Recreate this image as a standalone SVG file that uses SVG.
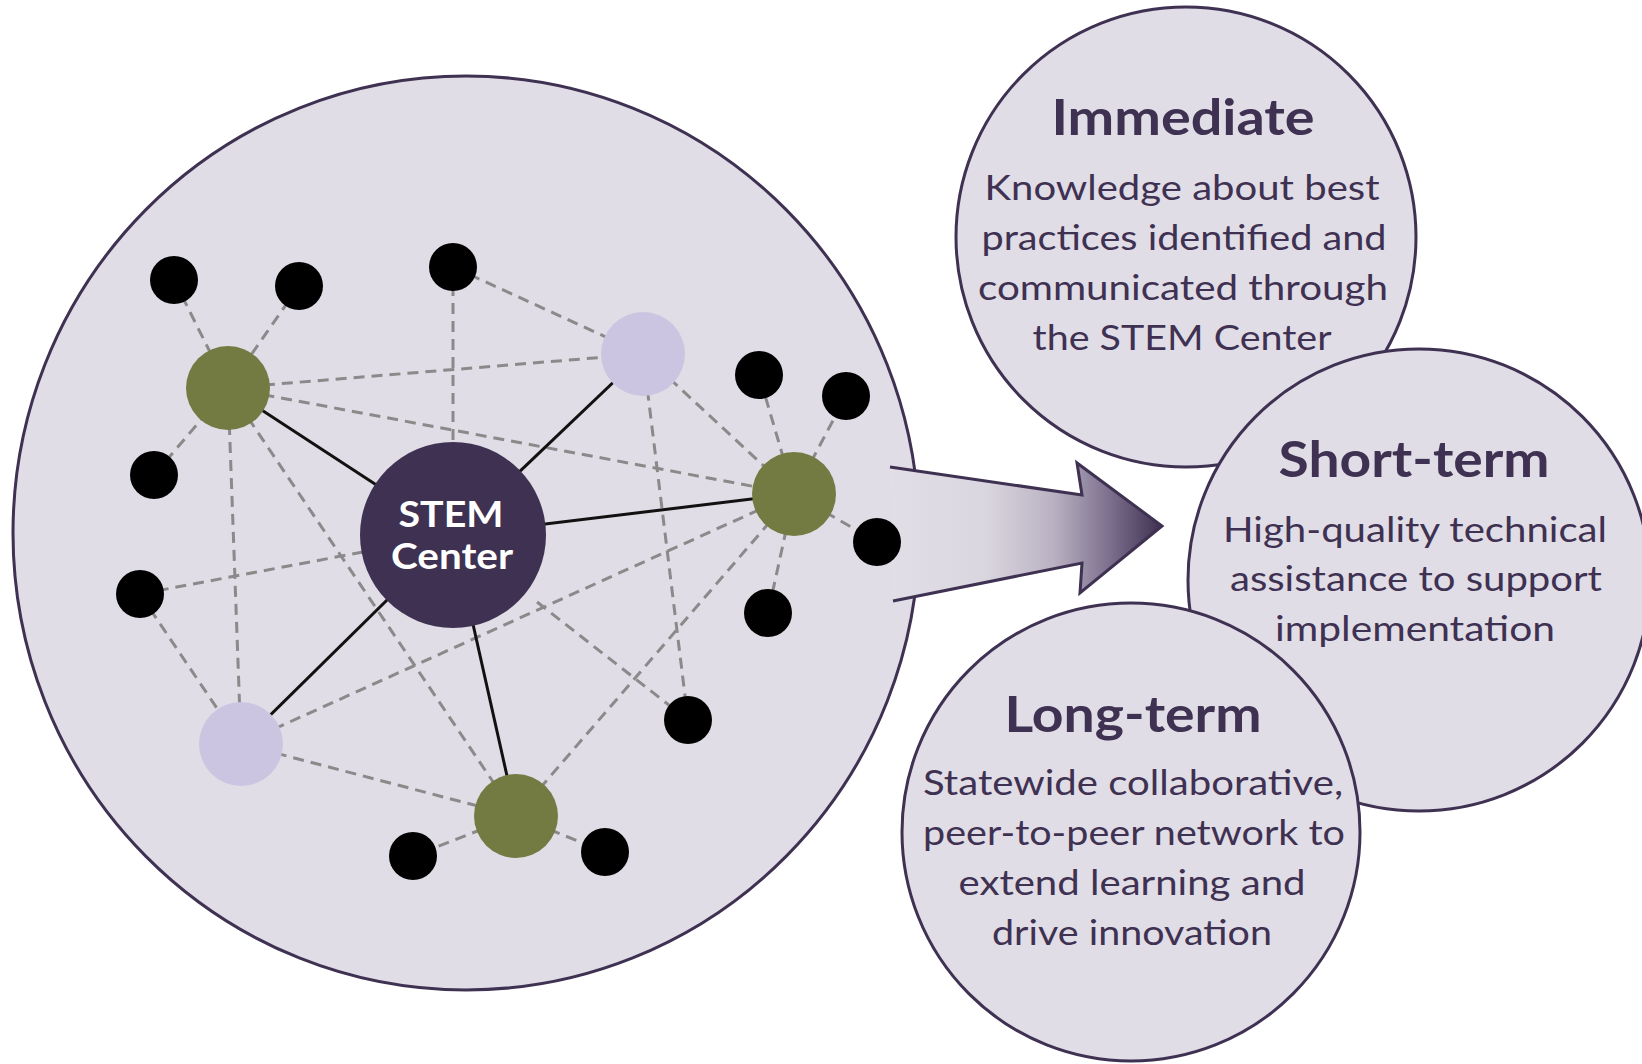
<svg xmlns="http://www.w3.org/2000/svg" width="1642" height="1064" viewBox="0 0 1642 1064">
<defs>
<linearGradient id="arrowGrad" gradientUnits="userSpaceOnUse" x1="890" y1="0" x2="1162" y2="0">
<stop offset="0" stop-color="#e1dee6"/>
<stop offset="0.35" stop-color="#dad6df"/>
<stop offset="0.6" stop-color="#bab2c3"/>
<stop offset="0.8" stop-color="#7e7290"/>
<stop offset="1" stop-color="#3f3050"/>
</linearGradient>
<style>
.bubble{fill:#e0dde6;stroke:#3f3152;stroke-width:3}
.dash{stroke:#8a8a8a;stroke-width:3;stroke-dasharray:11 7;fill:none}
.solid{stroke:#111;stroke-width:3;fill:none}
.green{fill:#737b42}
.lav{fill:#cbc5e1}
.blk{fill:#000}
.hub{fill:#3f3151}
.hd{font-family:Lato,"Open Sans","Liberation Sans",sans-serif;font-weight:bold;font-size:50px;fill:#3f3152;text-anchor:middle}
.bd{font-family:Lato,"Open Sans","Liberation Sans",sans-serif;font-size:34px;fill:#3f3152;text-anchor:middle}
.hubt{font-family:Lato,"Open Sans","Liberation Sans",sans-serif;font-weight:bold;font-size:36px;fill:#fff;text-anchor:middle}
</style>
</defs>
<rect width="1642" height="1064" fill="#fff"/>

<g id="network-bubble">
<ellipse class="bubble" cx="466" cy="533" rx="453" ry="457"/>
</g>

<g id="arrow">
<polygon points="890,467 1082,495 1077,463 1162,526 1080,593 1082,563 893,601" fill="url(#arrowGrad)"/>
<polyline points="890,467 1082,495 1077,463 1162,526 1080,593 1082,563 893,601" fill="none" stroke="#3f3152" stroke-width="3" stroke-linejoin="miter"/>
</g>

<g id="connectors">
<line class="dash" x1="174" y1="280" x2="228" y2="388"/>
<line class="dash" x1="299" y1="286" x2="228" y2="388"/>
<line class="dash" x1="154" y1="475" x2="228" y2="388"/>
<line class="dash" x1="453" y1="267" x2="643" y2="354"/>
<line class="dash" x1="453" y1="267" x2="453" y2="535"/>
<line class="dash" x1="228" y1="388" x2="643" y2="354"/>
<line class="dash" x1="228" y1="388" x2="794" y2="494"/>
<line class="dash" x1="228" y1="388" x2="241" y2="744"/>
<line class="dash" x1="228" y1="388" x2="516" y2="816"/>
<line class="dash" x1="140" y1="594" x2="453" y2="535"/>
<line class="dash" x1="140" y1="594" x2="241" y2="744"/>
<line class="dash" x1="241" y1="744" x2="794" y2="494"/>
<line class="dash" x1="241" y1="744" x2="516" y2="816"/>
<line class="dash" x1="516" y1="816" x2="413" y2="856"/>
<line class="dash" x1="516" y1="816" x2="605" y2="852"/>
<line class="dash" x1="516" y1="816" x2="794" y2="494"/>
<line class="dash" x1="643" y1="354" x2="794" y2="494"/>
<line class="dash" x1="643" y1="354" x2="688" y2="720"/>
<line class="dash" x1="537" y1="602" x2="688" y2="720"/>
<line class="dash" x1="794" y1="494" x2="759" y2="375"/>
<line class="dash" x1="794" y1="494" x2="846" y2="396"/>
<line class="dash" x1="794" y1="494" x2="877" y2="542"/>
<line class="dash" x1="794" y1="494" x2="768" y2="613"/>
<line class="solid" x1="453" y1="535" x2="228" y2="388"/>
<line class="solid" x1="453" y1="535" x2="643" y2="354"/>
<line class="solid" x1="453" y1="535" x2="794" y2="494"/>
<line class="solid" x1="453" y1="535" x2="241" y2="744"/>
<line class="solid" x1="453" y1="535" x2="516" y2="816"/>
</g>

<g id="node-g1"><circle class="green" cx="228" cy="388" r="42"/></g>
<g id="node-g2"><circle class="green" cx="794" cy="494" r="42"/></g>
<g id="node-g3"><circle class="green" cx="516" cy="816" r="42"/></g>
<g id="node-l1"><circle class="lav" cx="643" cy="354" r="42"/></g>
<g id="node-l2"><circle class="lav" cx="241" cy="744" r="42"/></g>
<g id="node-b1"><circle class="blk" cx="174" cy="280" r="24"/></g>
<g id="node-b2"><circle class="blk" cx="299" cy="286" r="24"/></g>
<g id="node-b3"><circle class="blk" cx="453" cy="267" r="24"/></g>
<g id="node-b4"><circle class="blk" cx="154" cy="475" r="24"/></g>
<g id="node-b5"><circle class="blk" cx="140" cy="594" r="24"/></g>
<g id="node-b6"><circle class="blk" cx="759" cy="375" r="24"/></g>
<g id="node-b7"><circle class="blk" cx="846" cy="396" r="24"/></g>
<g id="node-b8"><circle class="blk" cx="877" cy="542" r="24"/></g>
<g id="node-b9"><circle class="blk" cx="768" cy="613" r="24"/></g>
<g id="node-b10"><circle class="blk" cx="688" cy="720" r="24"/></g>
<g id="node-b11"><circle class="blk" cx="413" cy="856" r="24"/></g>
<g id="node-b12"><circle class="blk" cx="605" cy="852" r="24"/></g>

<g id="node-stem">
<circle class="hub" cx="453" cy="535" r="93"/>
<text class="hubt" x="451" y="527" textLength="105" lengthAdjust="spacingAndGlyphs">STEM</text>
<text class="hubt" x="452" y="569" textLength="122" lengthAdjust="spacingAndGlyphs">Center</text>
</g>

<g id="node-immediate">
<circle class="bubble" cx="1186" cy="237" r="230"/>
<text class="hd" x="1183" y="135" textLength="263" lengthAdjust="spacingAndGlyphs">Immediate</text>
<text class="bd" x="1182" y="200" textLength="395" lengthAdjust="spacingAndGlyphs">Knowledge about best</text>
<text class="bd" x="1184" y="250" textLength="405" lengthAdjust="spacingAndGlyphs">practices identified and</text>
<text class="bd" x="1183" y="300" textLength="410" lengthAdjust="spacingAndGlyphs">communicated through</text>
<text class="bd" x="1182" y="350" textLength="299" lengthAdjust="spacingAndGlyphs">the STEM Center</text>
</g>

<g id="node-shortterm">
<circle class="bubble" cx="1419" cy="580" r="231"/>
<text class="hd" x="1414" y="477" textLength="271" lengthAdjust="spacingAndGlyphs">Short-term</text>
<text class="bd" x="1415" y="542" textLength="384" lengthAdjust="spacingAndGlyphs">High-quality technical</text>
<text class="bd" x="1416" y="591" textLength="372" lengthAdjust="spacingAndGlyphs">assistance to support</text>
<text class="bd" x="1415" y="641" textLength="280" lengthAdjust="spacingAndGlyphs">implementation</text>
</g>

<g id="node-longterm">
<circle class="bubble" cx="1131" cy="832" r="229"/>
<text class="hd" x="1133" y="732" textLength="257" lengthAdjust="spacingAndGlyphs">Long-term</text>
<text class="bd" x="1133" y="795" textLength="420" lengthAdjust="spacingAndGlyphs">Statewide collaborative,</text>
<text class="bd" x="1134" y="845" textLength="422" lengthAdjust="spacingAndGlyphs">peer-to-peer network to</text>
<text class="bd" x="1132" y="895" textLength="347" lengthAdjust="spacingAndGlyphs">extend learning and</text>
<text class="bd" x="1132" y="945" textLength="280" lengthAdjust="spacingAndGlyphs">drive innovation</text>
</g>
</svg>
